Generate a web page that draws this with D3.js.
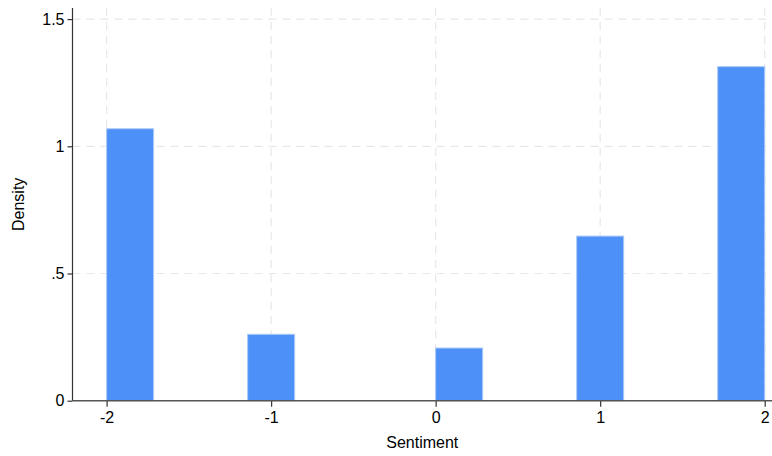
<!DOCTYPE html>
<html>
<head>
<meta charset="utf-8">
<script src="https://cdn.jsdelivr.net/npm/d3@7"></script>
<style>
  html, body { margin: 0; padding: 0; background: #fff; }
  svg { display: block; font-family: "Liberation Sans", Arial, sans-serif; }
</style>
</head>
<body>
<svg id="chart" width="772" height="456"></svg>
<script>
// Data: histogram of Sentiment, 14 bins over [-2, 2]
const binLow = [-2, -8/7, 0, 6/7, 12/7];      // lower edge of occupied bins
const binWidth = 4/14;
const density = [1.069, 0.261, 0.207, 0.647, 1.313];
const xTicks = [-2, -1, 0, 1, 2];
const xTickLabels = ["-2", "-1", "0", "1", "2"];
const yTicks = [0, 0.5, 1, 1.5];
const yTickLabels = ["0", ".5", "1", "1.5"];
const xTitle = "Sentiment";
const yTitle = "Density";

const svg = d3.select("#chart");
const axisX = 72.5, axisY = 400.7, plotRight = 772, plotTop = 8;
const x = d3.scaleLinear().domain([-2, 2]).range([106.6, 764.7]);
const y = d3.scaleLinear().domain([0, 1.5]).range([400.7, 19.1]);

const grid = svg.append("g").attr("stroke", "#e8e8e8").attr("stroke-width", 1.2)
  .attr("stroke-dasharray", "8,6");
yTicks.filter(d => d > 0).forEach(d => {
  grid.append("line").attr("x1", axisX).attr("x2", plotRight)
    .attr("y1", y(d)).attr("y2", y(d));
});
xTicks.forEach(d => {
  grid.append("line").attr("x1", x(d)).attr("x2", x(d))
    .attr("y1", plotTop).attr("y2", axisY);
});

// bars
svg.append("g").selectAll("rect").data(binLow).join("rect")
  .attr("x", (d) => x(d))
  .attr("width", (d) => x(d + binWidth) - x(d))
  .attr("y", (d, i) => y(density[i]))
  .attr("height", (d, i) => y(0) - y(density[i]))
  .attr("fill", "#4d90f8")
  .attr("stroke", "#a9c9f7")
  .attr("stroke-width", 1);

// Y axis
const yAxis = d3.axisLeft(y).tickValues(yTicks)
  .tickFormat((d, i) => yTickLabels[i]).tickSize(5).tickPadding(3).tickSizeOuter(0);
const gy = svg.append("g").attr("transform", `translate(${axisX},0)`).call(yAxis);
gy.select(".domain").remove();
gy.append("line").attr("x1", 0).attr("x2", 0).attr("y1", plotTop).attr("y2", axisY)
  .attr("stroke", "#333").attr("stroke-width", 1.2);
gy.selectAll(".tick line").attr("stroke", "#333").attr("stroke-width", 1.2);
gy.selectAll(".tick text").attr("font-size", 16).attr("fill", "#000")
  .attr("font-family", "Liberation Sans, Arial, sans-serif");

// X axis
const xAxis = d3.axisBottom(x).tickValues(xTicks)
  .tickFormat((d, i) => xTickLabels[i]).tickSize(6).tickPadding(5).tickSizeOuter(0);
const gx = svg.append("g").attr("transform", `translate(0,${axisY})`).call(xAxis);
gx.select(".domain").remove();
gx.append("line").attr("x1", axisX).attr("x2", plotRight).attr("y1", 0).attr("y2", 0)
  .attr("stroke", "#555").attr("stroke-width", 1.4);
gx.selectAll(".tick line").attr("stroke", "#333").attr("stroke-width", 1.2);
gx.selectAll(".tick text").attr("font-size", 16).attr("fill", "#000")
  .attr("font-family", "Liberation Sans, Arial, sans-serif");

// titles (centred on the plot region)
svg.append("text").attr("x", (axisX + plotRight) / 2).attr("y", 448).attr("text-anchor", "middle")
  .attr("font-size", 16).attr("fill", "#000").text(xTitle);
svg.append("text").attr("transform", `translate(24,${(plotTop + axisY) / 2}) rotate(-90)`)
  .attr("text-anchor", "middle").attr("font-size", 16).attr("fill", "#000").text(yTitle);
</script>
</body>
</html>
